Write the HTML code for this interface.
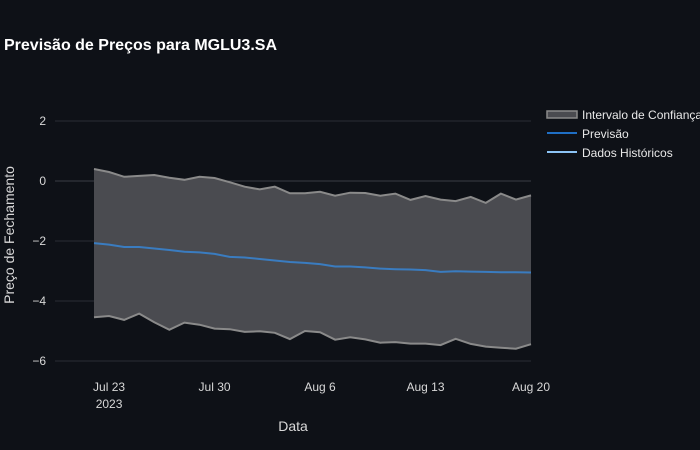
<!DOCTYPE html>
<html><head><meta charset="utf-8">
<style>
html,body{margin:0;padding:0;background:#0e1117;}
svg{display:block;font-family:"Liberation Sans",sans-serif;}
</style></head>
<body>
<svg id="chart" width="700" height="450">
<rect width="700" height="450" fill="#0e1117"/>
<text x="4" y="50" fill="#ffffff" font-size="16" font-weight="bold">Previsão de Preços para MGLU3.SA</text>
<g id="grid"></g>
<g id="marks"></g>
<g id="axes"></g>
<text x="293" y="431" fill="#d8d8d8" font-size="14" text-anchor="middle">Data</text>
<text x="14" y="235" fill="#d8d8d8" font-size="14" text-anchor="middle" transform="rotate(-90 14 235)">Preço de Fechamento</text>
<g>
<g>
<rect x="547" y="111" width="30" height="7" fill="#4a4b50" stroke="#8a8a8a" stroke-width="1.5"/>
<text x="582" y="119" fill="#e8e8e8" font-size="12">Intervalo de Confiança</text></g>
<g>
<line x1="547" x2="577" y1="133" y2="133" stroke="#1f6fc5" stroke-width="2"/>
<text x="582" y="138" fill="#e8e8e8" font-size="12">Previsão</text></g>
<g>
<line x1="547" x2="577" y1="152" y2="152" stroke="#8cc4f5" stroke-width="2"/>
<text x="582" y="157" fill="#e8e8e8" font-size="12">Dados Históricos</text></g>
</g>
</svg>
<script>
const upper=[0.40,0.30,0.14,0.17,0.20,0.11,0.04,0.14,0.10,-0.04,-0.19,-0.28,-0.19,-0.41,-0.41,-0.36,-0.49,-0.39,-0.40,-0.49,-0.42,-0.63,-0.50,-0.62,-0.67,-0.53,-0.73,-0.42,-0.62,-0.48];
const lower=[-4.54,-4.50,-4.63,-4.42,-4.71,-4.96,-4.72,-4.79,-4.92,-4.94,-5.03,-5.01,-5.06,-5.27,-5.00,-5.04,-5.29,-5.21,-5.28,-5.39,-5.37,-5.42,-5.42,-5.47,-5.26,-5.43,-5.52,-5.56,-5.59,-5.44];
const forecast=[-2.07,-2.12,-2.20,-2.20,-2.25,-2.30,-2.36,-2.38,-2.43,-2.53,-2.55,-2.60,-2.65,-2.70,-2.73,-2.77,-2.85,-2.85,-2.88,-2.92,-2.94,-2.95,-2.97,-3.03,-3.01,-3.02,-3.03,-3.04,-3.04,-3.05];
const yTicks=[2,0,-2,-4,-6];
const xTickDays=[1,8,15,22,29];
const xTickLabels=["Jul 23","Jul 30","Aug 6","Aug 13","Aug 20"];
const startDayOffset=0; // day 0 = Jul 22
const NS="http://www.w3.org/2000/svg";
const X0=94, DX=(531-94)/29, Y0=181, DY=30;
const xs=d=>X0+d*DX, ys=v=>Y0-v*DY;
function mk(tag,attrs,parent){const e=document.createElementNS(NS,tag);for(const k in attrs)e.setAttribute(k,attrs[k]);parent.appendChild(e);return e;}
const grid=document.getElementById('grid'),marks=document.getElementById('marks'),axes=document.getElementById('axes');
yTicks.forEach(t=>{
  const l=mk('line',{x1:55,x2:531,y1:ys(t),y2:ys(t),stroke:t===0?'#3a3d44':'#2a2d34','stroke-width':1},grid);
  
  
  const tx=mk('text',{x:46,y:ys(t)+4,fill:'#d8d8d8','font-size':12,'text-anchor':'end'},axes);
  tx.textContent=(t<0?'\u2212'+Math.abs(t):t);
  
  
});
xTickDays.forEach((d,i)=>{
  const tx=mk('text',{x:xs(d),y:391,fill:'#d8d8d8','font-size':12,'text-anchor':'middle'},axes);
  tx.textContent=xTickLabels[i];
  
  
});
const yr=mk('text',{x:xs(1),y:408,fill:'#d8d8d8','font-size':12,'text-anchor':'middle'},axes);
yr.textContent='2023';


const up=upper.map((v,i)=>xs(i)+','+ys(v));
const lo=lower.map((v,i)=>xs(i)+','+ys(v));
const band=mk('polygon',{points:up.concat(lo.slice().reverse()).join(' '),fill:'#4a4b50'},marks);


const ul=mk('polyline',{points:up.join(' '),fill:'none',stroke:'#8a8a8a','stroke-width':2},marks);


const ll=mk('polyline',{points:lo.join(' '),fill:'none',stroke:'#8a8a8a','stroke-width':2},marks);


const fl=mk('polyline',{points:forecast.map((v,i)=>xs(i)+','+ys(v)).join(' '),fill:'none',stroke:'#3a7cc0','stroke-width':2},marks);


</script>
</body></html>
